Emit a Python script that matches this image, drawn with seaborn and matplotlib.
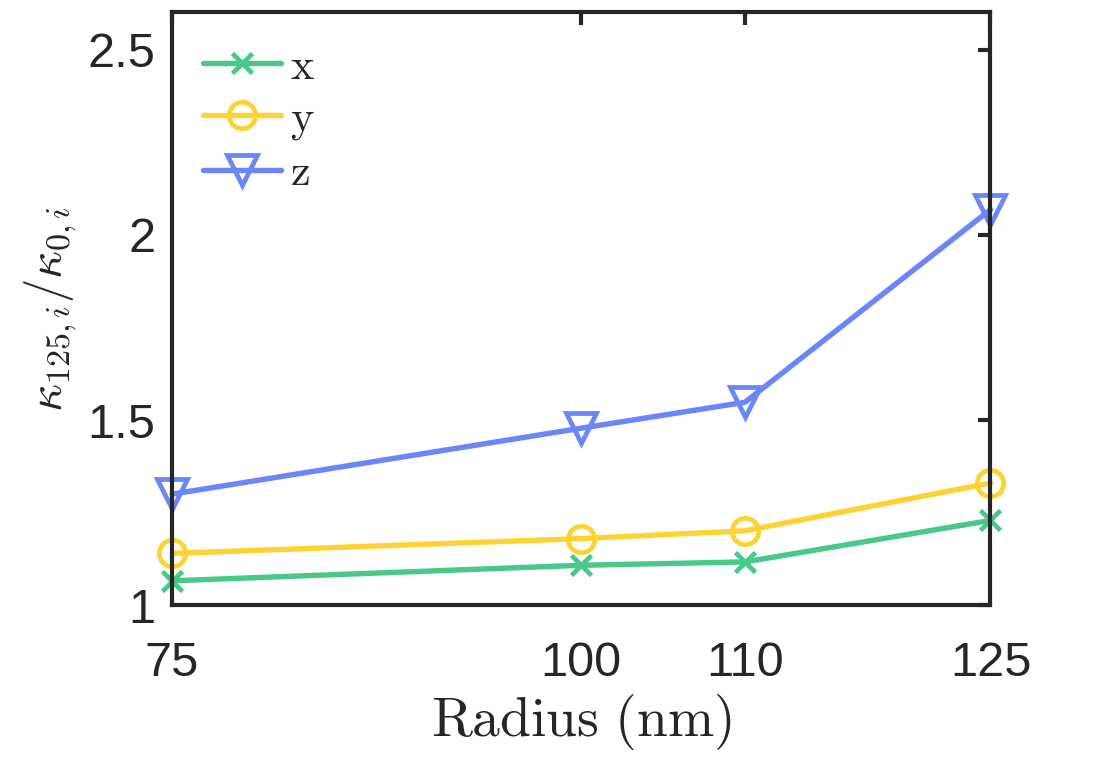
import pandas as pd
import matplotlib
matplotlib.use("Agg")
import matplotlib.pyplot as plt
import seaborn as sns

# data
radius = [75, 100, 110, 125]
kx = [1.066, 1.108, 1.117, 1.229]
ky = [1.140, 1.180, 1.201, 1.330]
kz = [1.300, 1.478, 1.548, 2.068]

series_names = ["x", "y", "z"]
series_colors = ["#48C98A", "#FDD334", "#6A86F8"]
series_markers = ["x", "o", "v"]
marker_sizes = [14, 19, 22]

yticks = [1, 1.5, 2, 2.5]
ytick_labels = ["1", "1.5", "2", "2.5"]

df = pd.DataFrame({"Radius": radius * 3,
                   "ratio": kx + ky + kz,
                   "dir": sum([[n] * len(radius) for n in series_names], [])})

sns.set_theme(style="white")
plt.rcParams["font.family"] = ["Liberation Sans", "DejaVu Sans"]
plt.rcParams["mathtext.fontset"] = "cm"

fig = plt.figure(figsize=(11.03, 7.81), dpi=100)
ax = fig.add_axes([0.156, 0.225, 0.742, 0.759])

for name, col, mk, ms in zip(series_names, series_colors, series_markers, marker_sizes):
    sub = df[df["dir"] == name]
    sns.lineplot(data=sub, x="Radius", y="ratio", ax=ax, color=col,
                 marker=mk, markersize=ms, markerfacecolor="none",
                 markeredgecolor=col, markeredgewidth=3.4, linewidth=3.9,
                 label=r"$\mathrm{%s}$" % name, clip_on=False)

ax.set_xlim(75, 125)
ax.set_ylim(1, 2.6)
ax.set_xticks(radius)
ax.set_xticklabels([str(r) for r in radius])
ax.set_yticks(yticks)
ax.set_yticklabels(ytick_labels)

for sp in ax.spines.values():
    sp.set_visible(True)
    sp.set_color("#262626")
    sp.set_linewidth(3)
ax.tick_params(direction="in", length=9, width=3, color="#262626",
               top=True, right=True, labelsize=35, labelcolor="#262626")
ax.tick_params(axis="x", pad=26)
ax.tick_params(axis="y", pad=12)

ax.set_xlabel(r"$\mathrm{Radius\ (nm)}$", fontsize=40, labelpad=4)
ax.set_ylabel(r"$\kappa_{125,i}/\kappa_{0,i}$", fontsize=35, labelpad=6)

leg = ax.legend(loc="upper left", frameon=False, fontsize=32,
                handlelength=1.75, handletextpad=0.2, labelspacing=0.25,
                borderaxespad=0.3, bbox_to_anchor=(0.0, 0.995))

fig.savefig("out.png", dpi=100)
